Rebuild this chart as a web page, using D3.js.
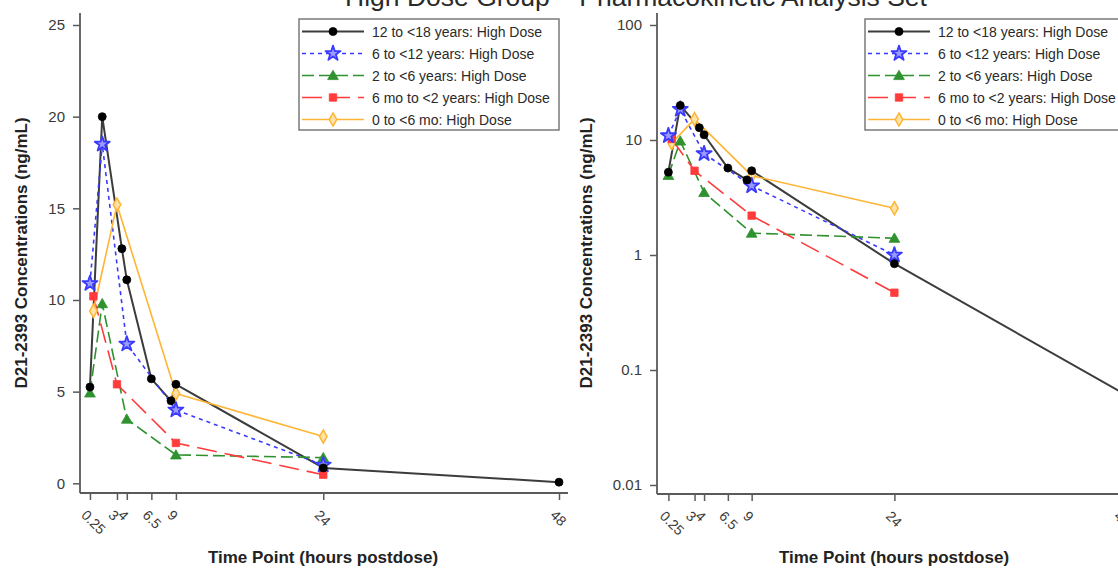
<!DOCTYPE html>
<html>
<head>
<meta charset="utf-8">
<script src="https://cdn.jsdelivr.net/npm/d3@7"></script>
<style>
  html, body { margin: 0; padding: 0; background: #fff; overflow: hidden; }
  svg { display: block; font-family: "Liberation Sans", Arial, sans-serif; }
</style>
</head>
<body>
<svg id="chart" width="1118" height="568"></svg>
<script>
// Mean concentration-time profiles by age cohort (high dose)
const groupLabels = [
  "12 to <18 years: High Dose",
  "6 to <12 years: High Dose",
  "2 to <6 years: High Dose",
  "6 mo to <2 years: High Dose",
  "0 to <6 mo: High Dose"
];
const times12to18 = [0.25, 1.5, 3.5, 4, 6.5, 8.5, 9, 24, 48];
const conc12to18  = [5.25, 20.0, 12.8, 11.1, 5.7, 4.5, 5.4, 0.84, 0.063];
const times6to12  = [0.25, 1.5, 4, 9, 24];
const conc6to12   = [10.9, 18.5, 7.6, 4.0, 1.0];
const times2to6   = [0.25, 1.5, 4, 9, 24];
const conc2to6    = [4.93, 9.8, 3.5, 1.55, 1.4];
const times6moTo2 = [0.6, 3, 9, 24];
const conc6moTo2  = [10.2, 5.4, 2.2, 0.47];
const times0to6mo = [0.6, 3, 9, 24];
const conc0to6mo  = [9.4, 15.2, 4.9, 2.55];

const timeTicks   = [0.25, 3, 4, 6.5, 9, 24, 48];
const linearTicks = [0, 5, 10, 15, 20, 25];
const logTicks    = [0.01, 0.1, 1, 10, 100];

const titleText  = "High Dose Group \u2013 Pharmacokinetic Analysis Set";
const xTitleText = "Time Point (hours postdose)";
const yTitleText = "D21-2393 Concentrations (ng/mL)";

const seriesTimes = [times12to18, times6to12, times2to6, times6moTo2, times0to6mo];
const seriesConc  = [conc12to18, conc6to12, conc2to6, conc6moTo2, conc0to6mo];

// Visual style of each cohort
const styles = [
  { color: "#3c3c3c", width: 2,   dash: null,   shape: "circle" },
  { color: "#3a3aff", width: 1.6, dash: "4,4",  shape: "star" },
  { color: "#2f922f", width: 1.6, dash: "12,5", shape: "triangle" },
  { color: "#ff3b3b", width: 1.6, dash: "20,8", shape: "square" },
  { color: "#ffb534", width: 1.6, dash: null,   shape: "diamond" }
];

const series = groupLabels.map((label, i) => ({
  label,
  style: styles[i],
  points: seriesTimes[i].map((t, j) => ({ t, c: seriesConc[i][j] }))
}));

const svg = d3.select("#chart");
const axisColor = "#5a5a5a";
const textColor = "#3a3a3a";

function drawMarker(g, shape, style, cx, cy) {
  const c = style.color;
  if (shape === "circle") {
    g.append("circle").attr("cx", cx).attr("cy", cy).attr("r", 4)
      .attr("fill", "#000").attr("stroke", "#000").attr("stroke-width", 0.8);
  } else if (shape === "star") {
    g.append("path").attr("transform", `translate(${cx},${cy})`)
      .attr("d", d3.symbol(d3.symbolStar, 70)())
      .attr("fill", "#9a9aff").attr("stroke", c).attr("stroke-width", 1.8)
      .attr("stroke-linejoin", "round");
  } else if (shape === "triangle") {
    g.append("path").attr("transform", `translate(${cx},${cy + 1})`)
      .attr("d", d3.symbol(d3.symbolTriangle, 50)())
      .attr("fill", c).attr("stroke", c).attr("stroke-width", 0.8);
  } else if (shape === "square") {
    g.append("path").attr("transform", `translate(${cx},${cy})`)
      .attr("d", d3.symbol(d3.symbolSquare, 55)())
      .attr("fill", c).attr("stroke", c).attr("stroke-width", 0.8);
  } else if (shape === "diamond") {
    g.append("path").attr("transform", `translate(${cx},${cy})`)
      .attr("d", d3.symbol(d3.symbolDiamond, 50)())
      .attr("fill", "#ffe2a8").attr("stroke", c).attr("stroke-width", 1.5);
  }
}

function drawPanel(opt) {
  const g = svg.append("g");
  const x = d3.scaleLinear().domain([0, 48]).range(opt.xRange);
  const y = opt.yScale;

  // axis lines
  g.append("line").attr("x1", opt.left).attr("x2", opt.left)
    .attr("y1", opt.top).attr("y2", opt.bottom)
    .attr("stroke", axisColor).attr("stroke-width", 1.8);
  g.append("line").attr("x1", opt.left).attr("x2", opt.right)
    .attr("y1", opt.bottom).attr("y2", opt.bottom)
    .attr("stroke", axisColor).attr("stroke-width", 1.8);

  // y axis ticks and labels
  const yAxis = d3.axisLeft(y).tickValues(opt.yTicks).tickSize(7).tickPadding(8)
    .tickFormat(opt.yFormat);
  const ya = g.append("g").attr("transform", `translate(${opt.left},0)`).call(yAxis);
  ya.select(".domain").remove();
  ya.selectAll(".tick line").attr("stroke", axisColor).attr("stroke-width", 1.5);
  ya.selectAll(".tick text").attr("fill", textColor)
    .style("font-size", "15px").style("font-family", "Liberation Sans, Arial, sans-serif");

  // x axis ticks and rotated labels
  const xAxis = d3.axisBottom(x).tickValues(timeTicks).tickSize(7).tickFormat(d3.format("~g"));
  const xa = g.append("g").attr("transform", `translate(0,${opt.bottom})`).call(xAxis);
  xa.select(".domain").remove();
  xa.selectAll(".tick line").attr("stroke", axisColor).attr("stroke-width", 1.5);
  xa.selectAll(".tick text")
    .attr("fill", textColor)
    .style("font-size", "14px").style("font-family", "Liberation Sans, Arial, sans-serif")
    .attr("text-anchor", "start")
    .attr("dy", null)
    .attr("y", 0)
    .attr("transform", "translate(-10,23) rotate(45)");

  // axis titles
  g.append("text").attr("x", opt.xTitleX).attr("y", 563)
    .attr("text-anchor", "middle").attr("font-weight", "bold")
    .attr("font-size", 17).attr("fill", "#222").text(xTitleText);
  g.append("text")
    .attr("transform", `translate(${opt.yTitleX},${opt.yTitleY}) rotate(-90)`)
    .attr("text-anchor", "middle").attr("font-weight", "bold")
    .attr("font-size", 17).attr("fill", "#222").text(yTitleText);

  // series lines
  const line = d3.line().x(d => x(d.t)).y(d => y(d.c));
  const plot = g.append("g");
  series.forEach(s => {
    plot.append("path").datum(s.points)
      .attr("d", line)
      .attr("fill", "none")
      .attr("stroke", s.style.color)
      .attr("stroke-width", s.style.width)
      .attr("stroke-dasharray", s.style.dash)
      .attr("stroke-linejoin", "round");
  });
  // markers drawn on top, last cohort first so the older cohorts stay visible
  series.slice().reverse().forEach(s => {
    s.points.forEach(p => drawMarker(plot, s.style.shape, s.style, x(p.t), y(p.c)));
  });

  // legend
  const lg = g.append("g").attr("transform", `translate(${opt.legendX},19)`);
  lg.append("rect").attr("x", 0).attr("y", 0).attr("width", 260).attr("height", 111)
    .attr("fill", "#fff").attr("stroke", "#7a7a7a").attr("stroke-width", 1.5);
  series.forEach((s, i) => {
    const cy = 12.5 + i * 22;
    lg.append("line").attr("x1", 3).attr("x2", 65).attr("y1", cy).attr("y2", cy)
      .attr("stroke", s.style.color).attr("stroke-width", s.style.width)
      .attr("stroke-dasharray", s.style.dash);
    drawMarker(lg, s.style.shape, s.style, 34, cy);
    lg.append("text").attr("x", 73).attr("y", cy + 5)
      .attr("font-size", 14).attr("fill", "#2a2a2a").text(s.label);
  });
}

// title
svg.append("text").attr("x", 636).attr("y", 6)
  .attr("text-anchor", "middle").attr("font-size", 26.5)
  .attr("fill", "#2a2a2a").text(titleText);

// linear panel
drawPanel({
  left: 80, right: 568, top: 13, bottom: 493,
  xRange: [87.5, 559],
  yScale: d3.scaleLinear().domain([0, 25]).range([483.3, 25]),
  yTicks: linearTicks,
  yFormat: d3.format("d"),
  xTitleX: 323, yTitleX: 27, yTitleY: 253,
  legendX: 299
});

// log panel
drawPanel({
  left: 657, right: 1160, top: 13, bottom: 494,
  xRange: [666, 1122.8],
  yScale: d3.scaleLog().domain([0.01, 100]).range([485, 25]),
  yTicks: logTicks,
  yFormat: d => d3.format("~g")(d),
  xTitleX: 894, yTitleX: 592, yTitleY: 253,
  legendX: 865
});
</script>
</body>
</html>
